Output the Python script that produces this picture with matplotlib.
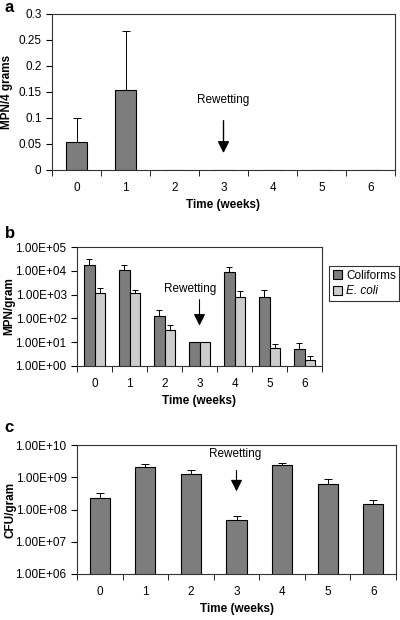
import numpy as np
import matplotlib.pyplot as plt
from matplotlib.ticker import FixedLocator, FuncFormatter, NullLocator

plt.rcParams['font.family'] = ['Liberation Sans', 'DejaVu Sans']

weeks = [0, 1, 2, 3, 4, 5, 6]

# panel a: MPN/4 grams
mpn4 = [0.053, 0.153, 0, 0, 0, 0, 0]
mpn4_top = [0.100, 0.267, 0, 0, 0, 0, 0]

# panel b: MPN/gram
coliforms = [1.8e4, 1.08e4, 130, 10, 9.2e3, 790, 5.2]
coliforms_top = [3.2e4, 1.8e4, 230, 10, 1.4e4, 1.5e3, 9.6]
ecoli = [1.17e3, 1.17e3, 34, 10, 790, 5.7, 1.8]
ecoli_top = [1.95e3, 1.6e3, 55, 10, 1.37e3, 8.7, 2.7]

# panel c: CFU/gram
cfu = [2.24e8, 2.09e9, 1.3e9, 4.9e7, 2.4e9, 6.3e8, 1.5e8]
cfu_top = [3.2e8, 2.57e9, 1.65e9, 6.1e7, 2.8e9, 9.1e8, 1.95e8]

dark = '#7d7d7d'
light = '#cccccc'
fs = 8.5


def sci(v, pos):
    e = int(round(np.log10(v)))
    return '1.00E%s%02d' % ('+' if e >= 0 else '-', abs(e))


def style(ax, ylabel):
    x = np.arange(len(weeks))
    ax.set_xlim(-0.5, len(weeks) - 0.5)
    ax.set_xticks(x)
    ax.set_xticklabels([str(w) for w in weeks], fontsize=fs)
    ax.xaxis.set_minor_locator(FixedLocator(np.arange(-0.5, len(weeks), 1.0)))
    ax.tick_params(axis='x', which='major', length=0, pad=9)
    ax.tick_params(axis='x', which='minor', length=4, direction='out')
    ax.tick_params(axis='y', which='major', length=4, direction='out', labelsize=fs)
    ax.set_xlabel('Time (weeks)', fontsize=fs, fontweight='bold', labelpad=3)
    ax.set_ylabel(ylabel, fontsize=fs, fontweight='bold')
    for s in ax.spines.values():
        s.set_linewidth(0.8)
        s.set_color('#333333')


def upper_err(vals, tops):
    vals = np.array(vals, dtype=float)
    tops = np.array(tops, dtype=float)
    return [np.zeros_like(vals), tops - vals]


fig = plt.figure(figsize=(4, 6.2), dpi=100)

# ---- a ----
ax1 = fig.add_axes([0.13, 0.726, 0.8575, 0.2516])
x = np.arange(len(weeks))
ax1.bar(x, mpn4, width=0.43, color=dark, edgecolor='black', linewidth=0.8,
        yerr=upper_err(mpn4, mpn4_top), error_kw=dict(ecolor='black', elinewidth=0.7, capsize=3, capthick=0.7))
ax1.set_ylim(0, 0.3)
ax1.set_yticks([0, 0.05, 0.1, 0.15, 0.2, 0.25, 0.3])
ax1.set_yticklabels(['0', '0.05', '0.1', '0.15', '0.2', '0.25', '0.3'])
style(ax1, 'MPN/4 grams')
ax1.yaxis.set_label_coords(-0.115, 0.5)
ax1.text(3, 0.135, 'Rewetting', ha='center', va='center', fontsize=fs)
ax1.annotate('', xy=(3, 0.027), xytext=(3, 0.1),
             arrowprops=dict(arrowstyle='-|>,head_length=0.5,head_width=0.25',
                             color='black', lw=1.0, mutation_scale=14))
fig.text(0.012, 0.988, 'a', fontsize=12, fontweight='bold', va='center')

# ---- b ----
ax2 = fig.add_axes([0.1925, 0.4097, 0.6125, 0.1919])
w = 0.3
ax2.bar(x - w / 2, coliforms, width=w, color=dark, edgecolor='black', linewidth=0.8,
        yerr=upper_err(coliforms, coliforms_top), label='Coliforms',
        error_kw=dict(ecolor='black', elinewidth=0.7, capsize=2.5, capthick=0.7))
ax2.bar(x + w / 2, ecoli, width=w, color=light, edgecolor='black', linewidth=0.8,
        yerr=upper_err(ecoli, ecoli_top), label='E. coli',
        error_kw=dict(ecolor='black', elinewidth=0.7, capsize=2.5, capthick=0.7))
ax2.set_yscale('log')
ax2.set_ylim(1, 1e5)
ax2.yaxis.set_major_locator(FixedLocator([1e0, 1e1, 1e2, 1e3, 1e4, 1e5]))
ax2.yaxis.set_minor_locator(NullLocator())
ax2.yaxis.set_major_formatter(FuncFormatter(sci))
style(ax2, 'MPN/gram')
ax2.yaxis.set_label_coords(-0.25, 0.5)
ax2.text(2.72, 1.8e3, 'Rewetting', ha='center', va='center', fontsize=fs)
ax2.annotate('', xy=(3, 38), xytext=(3, 800),
             arrowprops=dict(arrowstyle='-|>,head_length=0.5,head_width=0.25',
                             color='black', lw=0.8, mutation_scale=14))
leg = ax2.legend(loc='upper left', bbox_to_anchor=(1.03, 0.84), fontsize=fs,
                 frameon=True, fancybox=False, edgecolor='black', handlelength=0.8,
                 handleheight=0.8, handletextpad=0.3, borderpad=0.3, labelspacing=0.3,
                 borderaxespad=0)
leg.get_frame().set_linewidth(0.8)
leg.get_texts()[1].set_fontstyle('italic')
fig.text(0.012, 0.624, 'b', fontsize=12, fontweight='bold', va='center')

# ---- c ----
ax3 = fig.add_axes([0.1925, 0.0742, 0.7975, 0.208])
ax3.bar(x, cfu, width=0.44, color=dark, edgecolor='black', linewidth=0.8,
        yerr=upper_err(cfu, cfu_top), error_kw=dict(ecolor='black', elinewidth=0.7, capsize=3, capthick=0.7))
ax3.set_yscale('log')
ax3.set_ylim(1e6, 1e10)
ax3.yaxis.set_major_locator(FixedLocator([1e6, 1e7, 1e8, 1e9, 1e10]))
ax3.yaxis.set_minor_locator(NullLocator())
ax3.yaxis.set_major_formatter(FuncFormatter(sci))
style(ax3, 'CFU/gram')
ax3.yaxis.set_label_coords(-0.19, 0.5)
ax3.text(2.97, 5.2e9, 'Rewetting', ha='center', va='center', fontsize=fs)
ax3.annotate('', xy=(3, 3.0e8), xytext=(3, 2.0e9),
             arrowprops=dict(arrowstyle='-|>,head_length=0.5,head_width=0.25',
                             color='black', lw=0.8, mutation_scale=14))
fig.text(0.012, 0.311, 'c', fontsize=12, fontweight='bold', va='center')

fig.savefig('out.png', dpi=100)
